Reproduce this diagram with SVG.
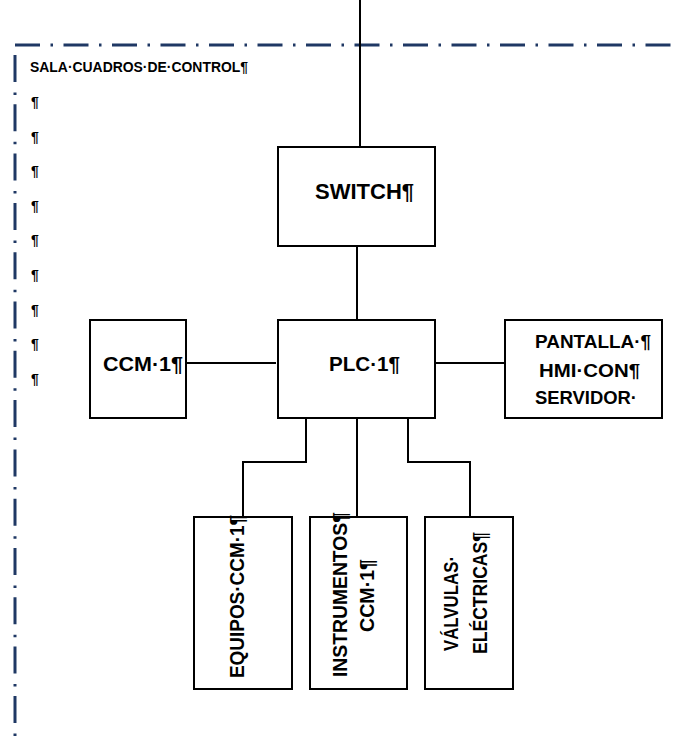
<svg xmlns="http://www.w3.org/2000/svg" width="681" height="737" viewBox="0 0 681 737">
<style>
.box{fill:#fff;stroke:#000;stroke-width:2}
.wire{fill:none;stroke:#000;stroke-width:2}
.border{fill:none;stroke:#1F3864;stroke-width:3}
.t{font-family:"Liberation Sans",Arial,sans-serif;font-weight:bold;fill:#000}
</style>
<rect width="681" height="737" fill="#fff"/>
<g id="room">
<line class="border" x1="15" y1="45" x2="681" y2="45" stroke-dasharray="25 10.5 2.5 10.5"/>
<line class="border" x1="15" y1="55" x2="15" y2="737" stroke-width="2.6" stroke-dasharray="27 10.5 2.5 9.3"/>
<text class="t" x="30" y="72" font-size="14" textLength="218" lengthAdjust="spacingAndGlyphs">SALA·CUADROS·DE·CONTROL¶</text>
<g class="t" font-size="14">
<text x="31" y="107">¶</text>
<text x="31" y="142">¶</text>
<text x="31" y="176">¶</text>
<text x="31" y="211">¶</text>
<text x="31" y="245">¶</text>
<text x="31" y="280">¶</text>
<text x="31" y="315">¶</text>
<text x="31" y="349">¶</text>
<text x="31" y="384">¶</text>
</g>
</g>
<g id="connectors">
<line class="wire" x1="360" y1="0" x2="360" y2="147"/>
<line class="wire" x1="357" y1="246" x2="357" y2="320"/>
<line class="wire" x1="187" y1="363" x2="276" y2="363"/>
<line class="wire" x1="435" y1="363" x2="505" y2="363"/>
<polyline class="wire" points="306,418 306,462 243,462 243,517"/>
<line class="wire" x1="357" y1="418" x2="357" y2="517"/>
<polyline class="wire" points="408,418 408,462 470,462 470,517"/>
</g>
<g id="switch">
<rect class="box" x="278" y="147" width="157" height="99"/>
<text class="t" x="315" y="199" font-size="22" textLength="99" lengthAdjust="spacingAndGlyphs">SWITCH¶</text>
</g>
<g id="plc1">
<rect class="box" x="278" y="320" width="157" height="98"/>
<text class="t" x="329" y="371" font-size="21" textLength="71" lengthAdjust="spacingAndGlyphs">PLC·1¶</text>
</g>
<g id="ccm1">
<rect class="box" x="90" y="320" width="96" height="98"/>
<text class="t" x="103" y="371" font-size="21" textLength="80" lengthAdjust="spacingAndGlyphs">CCM·1¶</text>
</g>
<g id="hmi">
<rect class="box" x="505" y="320" width="157" height="98"/>
<text class="t" x="535" y="348" font-size="18" textLength="116" lengthAdjust="spacingAndGlyphs">PANTALLA·¶</text>
<text class="t" x="539" y="377" font-size="18" textLength="101" lengthAdjust="spacingAndGlyphs">HMI·CON¶</text>
<text class="t" x="535" y="404" font-size="18" textLength="102" lengthAdjust="spacingAndGlyphs">SERVIDOR·</text>
</g>
<g id="equipos">
<rect class="box" x="194" y="517" width="98" height="172"/>
<text class="t" font-size="20" transform="translate(244,678) rotate(-90)" textLength="163" lengthAdjust="spacingAndGlyphs">EQUIPOS·CCM·1¶</text>
</g>
<g id="instrumentos">
<rect class="box" x="310" y="517" width="97" height="172"/>
<text class="t" font-size="20" transform="translate(347,677) rotate(-90)" textLength="165" lengthAdjust="spacingAndGlyphs">INSTRUMENTOS¶</text>
<text class="t" font-size="20" transform="translate(374,632) rotate(-90)" textLength="73" lengthAdjust="spacingAndGlyphs">CCM·1¶</text>
</g>
<g id="valvulas">
<rect class="box" x="425" y="517" width="88" height="172"/>
<text class="t" font-size="20" transform="translate(458,651) rotate(-90)" textLength="95" lengthAdjust="spacingAndGlyphs">VÁLVULAS·</text>
<text class="t" font-size="20" transform="translate(487,654) rotate(-90)" textLength="122" lengthAdjust="spacingAndGlyphs">ELÉCTRICAS¶</text>
</g>
</svg>
